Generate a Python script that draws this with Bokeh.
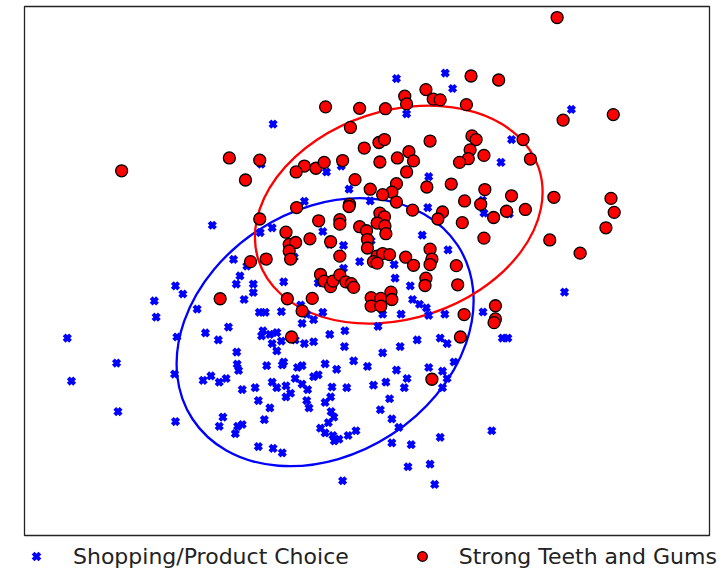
from bokeh.plotting import figure
from bokeh.models import Range1d, Legend, LegendItem
from bokeh.embed import file_html
from bokeh.resources import INLINE

# Shopping/Product Choice (blue crosses)
blue_pts = [
(860,214),(966,199),(982,241),(882,310),(592,338),(1240,298),(1110,380),(1087,442),
(708,468),(740,452),(566,447),(930,481),(757,515),(660,548),(803,547),(928,565),
(1047,545),(1050,580),(1105,582),(460,613),(564,633),(590,620),(700,630),(715,665),
(745,668),(805,655),(916,640),(972,680),(638,700),(506,706),(780,712),(855,720),
(745,730),(535,724),(520,751),(549,773),(512,773),(857,757),(615,767),(690,770),
(380,778),(396,800),(549,796),(529,815),(890,778),(334,819),(338,863),(427,841),
(562,850),(575,850),(610,848),(652,830),(665,855),(700,850),(895,815),(910,828),
(925,838),(930,858),(965,855),(830,855),(870,855),(1048,849),(655,880),(680,870),
(820,888),(495,890),(445,906),(473,925),(383,917),(145,920),(570,900),(585,910),
(600,905),(567,914),(590,935),(610,928),(640,925),(660,935),(680,930),(715,910),
(748,900),(747,943),(600,955),(868,943),(905,925),(955,920),(970,935),(1090,920),
(1102,920),(513,958),(514,991),(830,960),(252,988),(154,1037),(255,1120),(380,1147),
(378,1018),(440,1035),(457,1023),(475,1040),(490,1030),(517,1008),(578,995),(612,993),
(615,985),(645,1000),(655,995),(705,990),(730,1005),(767,982),(797,997),(860,1007),
(883,1030),(930,1000),(960,1010),(970,1030),(985,985),(525,1060),(553,1055),(590,1040),
(600,1055),(620,1050),(630,1070),(640,1030),(655,1045),(667,1060),(680,1025),(690,1020),
(720,1053),(752,1055),(810,1048),(837,1040),(877,1055),(960,1055),(560,1090),(585,1110),
(620,1080),(665,1090),(670,1110),(705,1095),(717,1080),(845,1085),(825,1115),(483,1135),
(573,1142),(475,1160),(515,1160),(525,1155),(718,1120),(724,1135),(712,1150),(850,1140),
(865,1163),(695,1165),(705,1178),(722,1185),(735,1195),(725,1200),(755,1185),(772,1172),
(510,1180),(560,1215),(592,1220),(612,1232),(850,1205),(892,1210),(955,1190),(1067,1172),
(885,1270),(933,1263),(943,1318),(743,1308),(1225,795),
]

# Strong Teeth and Gums (red circles)
red_pts = [
(1209,48),(1022,207),(1082,218),(924,244),(878,262),(940,270),(955,272),(882,283),
(1012,285),(706,291),(780,295),(836,296),(1222,327),(1331,312),(760,347),(1024,370),
(1033,380),(822,388),(834,380),(933,384),(1135,380),(790,403),(887,413),(1020,408),
(1016,432),(1050,423),(862,430),(897,438),(997,442),(824,441),(1151,433),(497,430),
(563,436),(263,465),(532,490),(660,452),(685,458),(703,442),(743,437),(642,468),
(882,468),(770,489),(860,500),(926,509),(979,501),(803,515),(850,523),(830,530),
(1052,516),(1110,533),(1202,537),(1326,540),(1333,578),(1315,620),(1008,547),(1043,556),
(758,556),(757,562),(643,565),(895,572),(960,577),(950,596),(1140,570),(1099,575),
(1071,592),(1003,606),(563,596),(691,601),(737,598),(737,610),(824,580),(834,590),
(818,607),(780,617),(795,628),(835,615),(837,636),(620,632),(797,652),(797,675),
(1050,648),(1193,653),(1259,689),(627,665),(641,660),(627,683),(630,705),(672,650),
(717,658),(737,697),(577,705),(543,712),(818,697),(830,690),(845,693),(810,712),
(818,716),(880,700),(897,722),(933,678),(937,705),(933,720),(990,723),(924,757),
(922,777),(993,775),(695,747),(703,765),(717,780),(722,765),(737,748),(750,767),
(762,772),(767,782),(477,813),(623,813),(677,812),(805,810),(805,833),(826,812),
(826,833),(848,795),(850,815),(655,846),(1075,832),(1007,856),(1075,868),(1072,878),
(632,917),(999,917),(937,1032),(860,550),
]

blue_x = [a for a, b in blue_pts]
blue_y = [b for a, b in blue_pts]
red_x = [a for a, b in red_pts]
red_y = [b for a, b in red_pts]

labels = ["Shopping/Product Choice", "Strong Teeth and Gums"]

# covariance ellipses: centre (data), axes (screen px), tilt (deg)
ell_cx = [705, 865]
ell_cy = [904, 584]
ell_w = [317, 295]
ell_h = [244, 208]
ell_angle = [33.2, 18.2]
ell_color = ["#0000ff", "#ff0000"]

p = figure(frame_width=685, frame_height=529,
           output_backend="svg", toolbar_location=None,
           x_range=Range1d(52, 1540), y_range=Range1d(1457, 18),
           x_axis_location=None, y_axis_location=None,
           min_border_left=24, min_border_right=13,
           min_border_top=6, min_border_bottom=0)
p.grid.visible = False
p.outline_line_color = "#222222"
p.outline_line_width = 1.3

p.ellipse(x=ell_cx, y=ell_cy, width=ell_w, height=ell_h, angle=ell_angle,
          angle_units="deg", width_units="screen", height_units="screen",
          fill_color=None, line_color=ell_color, line_width=2.3)

rb = p.scatter(blue_x, blue_y, marker="x", size=9, line_width=4,
               line_color="#0000ff")
rr = p.scatter(red_x, red_y, marker="circle", size=12, fill_color="#ff0000",
               line_color="black", line_width=1.3)

legend = Legend(items=[LegendItem(label=labels[0], renderers=[rb]),
                       LegendItem(label=labels[1], renderers=[rr])],
                orientation="horizontal", location="top_left",
                border_line_color=None, background_fill_alpha=0,
                label_text_font="DejaVu Sans", label_text_font_size="22px",
                label_text_color="#222222",
                glyph_width=24, glyph_height=42, label_standoff=25,
                spacing=61, padding=0, margin=0)
p.add_layout(legend, "below")

open("out.html", "w").write(file_html(p, INLINE))
